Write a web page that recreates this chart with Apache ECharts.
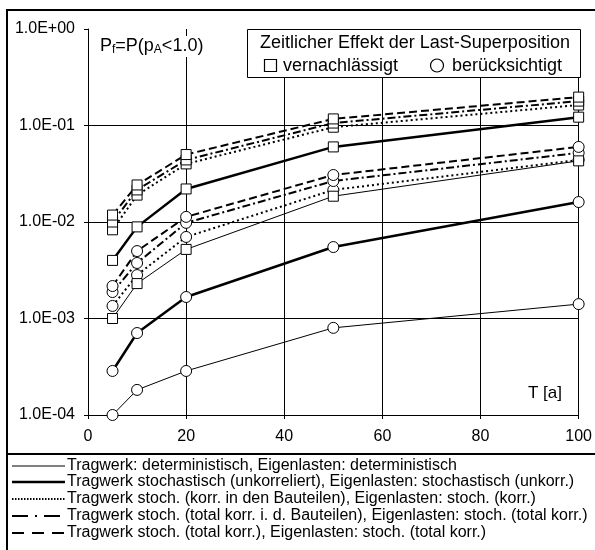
<!DOCTYPE html>
<html>
<head>
<meta charset="utf-8">
<script src="https://cdn.jsdelivr.net/npm/echarts@6/dist/echarts.min.js"></script>
<style>html,body{margin:0;padding:0;background:#fff}#c{width:595px;height:550px}</style>
</head>
<body>
<div id="c"></div>
<script>
// ---- data ----
const years = [5, 10, 20, 50, 100];
const xTicks = [0, 20, 40, 60, 80, 100];
// squares: zeitlicher Effekt vernachlässigt
const sqDet  = [0.0010, 0.0023, 0.0052, 0.0185, 0.043];
const sqUnk  = [0.0040, 0.0089, 0.022, 0.060, 0.122];
const sqKorr = [0.0083, 0.019, 0.040, 0.096, 0.163];
const sqTkb  = [0.0100, 0.0215, 0.044, 0.106, 0.179];
const sqTk   = [0.0118, 0.0242, 0.050, 0.117, 0.197];
// circles: zeitlicher Effekt berücksichtigt
const ciDet  = [0.00010, 0.000182, 0.000286, 0.00080, 0.00141];
const ciUnk  = [0.000286, 0.000707, 0.00167, 0.0055, 0.0161];
const ciKorr = [0.00135, 0.00282, 0.0070, 0.0215, 0.044];
const ciTkb  = [0.00188, 0.00376, 0.0098, 0.0266, 0.052];
const ciTk   = [0.00217, 0.0050, 0.0113, 0.0307, 0.060];
const legendLabels = [
  'Tragwerk: deterministisch, Eigenlasten: deterministisch',
  'Tragwerk stochastisch (unkorreliert), Eigenlasten: stochastisch (unkorr.)',
  'Tragwerk stoch. (korr. in den Bauteilen), Eigenlasten: stoch. (korr.)',
  'Tragwerk stoch. (total korr. i. d. Bauteilen), Eigenlasten: stoch. (total korr.)',
  'Tragwerk stoch. (total korr.), Eigenlasten: stoch. (total korr.)'
];

// ---- styles ----
const FONT = 'Liberation Sans, Arial, sans-serif';
const styles = [
  {width: 1, type: 'solid'},
  {width: 2.5, type: 'solid'},
  {width: 2, type: [2, 3]},
  {width: 2, type: [8, 3, 2, 3]},
  {width: 2, type: [8, 4]}
];
const legendDash = [null, null, [1.5, 1.5], [16, 7, 2, 7], [12, 8]];
const sqSets = [sqDet, sqUnk, sqKorr, sqTkb, sqTk];
const ciSets = [ciDet, ciUnk, ciKorr, ciTkb, ciTk];

function mk(vals, st, sym, name) {
  return {
    type: 'line', name: name,
    data: years.map((x, i) => [x, vals[i]]),
    symbol: sym, symbolSize: sym === 'rect' ? 10 : 11,
    showAllSymbol: true, clip: false,
    lineStyle: {color: '#000', width: st.width, type: st.type},
    itemStyle: {color: '#fff', borderColor: '#000', borderWidth: 1},
    emphasis: {disabled: true}, animation: false, z: 3
  };
}
const series = [];
for (let i = 0; i < 5; i++) series.push(mk(ciSets[i], styles[i], 'circle', 'c' + i));
for (let i = 0; i < 5; i++) series.push(mk(sqSets[i], styles[i], 'rect', 's' + i));

const graphics = [
  // outer frame
  {type: 'rect', shape: {x: 7, y: 10, width: 600, height: 560}, style: {fill: 'none', stroke: '#000', lineWidth: 2}, z: 10},
  {type: 'line', shape: {x1: 7, y1: 454, x2: 600, y2: 454}, style: {stroke: '#000', lineWidth: 2}, z: 10},
  // P_f text
  {type: 'text', left: 98, top: 36, z: 8,
   style: {text: '{a|P}{s|f}{a|=P(p}{s|A}{a|<1.0)}', backgroundColor: '#fff', padding: [1, 2],
     rich: {a: {fontSize: 18, fontFamily: FONT, fill: '#000'}, s: {fontSize: 12, fontFamily: FONT, fill: '#000', verticalAlign: 'bottom', padding: [7, 0, 0, 0]}}}},
  // legend box
  {type: 'rect', shape: {x: 247.5, y: 29.5, width: 333, height: 48}, style: {fill: '#fff', stroke: '#000', lineWidth: 1}, z: 8},
  {type: 'text', x: 415, y: 43, z: 9, style: {text: 'Zeitlicher Effekt der Last-Superposition', font: '18px ' + FONT, fill: '#000', align: 'center', verticalAlign: 'middle'}},
  {type: 'rect', shape: {x: 264.5, y: 59.5, width: 12, height: 12}, style: {fill: '#fff', stroke: '#000', lineWidth: 1.2}, z: 9},
  {type: 'text', x: 283, y: 66, z: 9, style: {text: 'vernachlässigt', font: '18px ' + FONT, fill: '#000', verticalAlign: 'middle'}},
  {type: 'circle', shape: {cx: 437, cy: 65.5, r: 6.5}, style: {fill: '#fff', stroke: '#000', lineWidth: 1.2}, z: 9},
  {type: 'text', x: 452, y: 66, z: 9, style: {text: 'berücksichtigt', font: '18px ' + FONT, fill: '#000', verticalAlign: 'middle'}},
  // T [a]
  {type: 'text', x: 545, y: 393, z: 9, style: {text: 'T [a]', font: '17px ' + FONT, fill: '#000', align: 'center', verticalAlign: 'middle'}}
];
const rowY = [466, 482, 499, 516, 533];
for (let i = 0; i < 5; i++) {
  const st = styles[i];
  graphics.push({type: 'line', shape: {x1: 12, y1: rowY[i], x2: 65, y2: rowY[i]}, z: 9,
    style: {stroke: '#000', lineWidth: st.width, lineDash: legendDash[i]}});
  graphics.push({type: 'text', x: 67, y: rowY[i], z: 9,
    style: {text: legendLabels[i], font: '16px ' + FONT, fill: '#000', verticalAlign: 'middle'}});
}

const chart = echarts.init(document.getElementById('c'), null, {renderer: 'canvas'});
chart.setOption({
  animation: false,
  backgroundColor: '#fff',
  grid: {left: 88, right: 15, top: 29, bottom: 135, containLabel: false},
  xAxis: {
    type: 'value', min: xTicks[0], max: xTicks[xTicks.length - 1], interval: 20,
    axisLine: {show: true, onZero: false, lineStyle: {color: '#000', width: 1}},
    axisTick: {show: true, length: 4, lineStyle: {color: '#000'}},
    axisLabel: {color: '#000', fontSize: 16, fontFamily: FONT, margin: 14},
    splitLine: {show: true, showMinLine: false, lineStyle: {color: '#000', width: 1}}
  },
  yAxis: {
    type: 'log', logBase: 10, min: 1e-4, max: 1,
    axisLine: {show: true, lineStyle: {color: '#000', width: 1}},
    axisTick: {show: true, length: 4, lineStyle: {color: '#000'}},
    minorTick: {show: false},
    axisLabel: {color: '#000', fontSize: 16, fontFamily: FONT, margin: 13,
      formatter: v => { const e = Math.round(Math.log10(v)); return '1.0E' + (e >= 0 ? '+' : '-') + String(Math.abs(e)).padStart(2, '0'); }},
    splitLine: {show: true, showMaxLine: false, showMinLine: false, lineStyle: {color: '#000', width: 1}}
  },
  series: series,
  graphic: graphics
});
</script>
</body>
</html>
